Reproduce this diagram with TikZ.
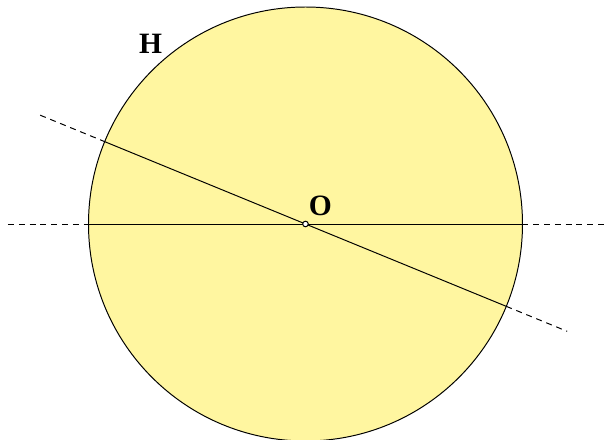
\documentclass[tikz,border=0pt]{standalone}
\usepackage{fontspec}
\setmainfont{Liberation Serif}
\definecolor{PaleYellow}{RGB}{255, 246, 160}
\usetikzlibrary{calc}

\begin{document}
\begin{tikzpicture}[
    disc/.style={draw, line width=0.7pt, fill=PaleYellow},
    axis/.style={line width=0.7pt},
    ext/.style={line width=0.7pt, dash pattern=on 0.15cm off 0.12cm},
    lbl/.style={font=\fontsize{21}{24}\selectfont\bfseries},
    centre/.style={circle, draw, fill=white, inner sep=0pt, minimum size=0.14cm, line width=0.7pt}]

    \useasboundingbox (-7.6375,-5.4) rectangle (7.5625,5.6);

    % Circle
    \def\rad{5.425}
    \draw[disc] (0,0) circle (\rad);

    % Points
    \coordinate (O) at (0,0);
    \coordinate (hl) at (-7.4375,0);
    \coordinate (hr) at (7.5625,0);
    \coordinate (hl0) at (180:\rad);
    \coordinate (hr0) at (0:\rad);
    \coordinate (sl) at (157.7:7.17);
    \coordinate (sr) at (-22.3:7.07);
    \coordinate (sl0) at (157.7:\rad);
    \coordinate (sr0) at (-22.3:\rad);

    % Lines
    \draw[ext] (hl) -- (hl0);
    \draw[axis] (hl0) -- (hr0);
    \draw[ext] (hr0) -- (hr);
    \draw[ext] (sl) -- (sl0);
    \draw[axis] (sl0) -- (sr0);
    \draw[ext] (sr0) -- (sr);

    % Labels
    \node[centre] (centre) at (O) {};
    \node[lbl] (labO) at (0.37,0.45) {O};
    \node[lbl] (labH) at (-3.87,4.5) {H};
\end{tikzpicture}
\end{document}
